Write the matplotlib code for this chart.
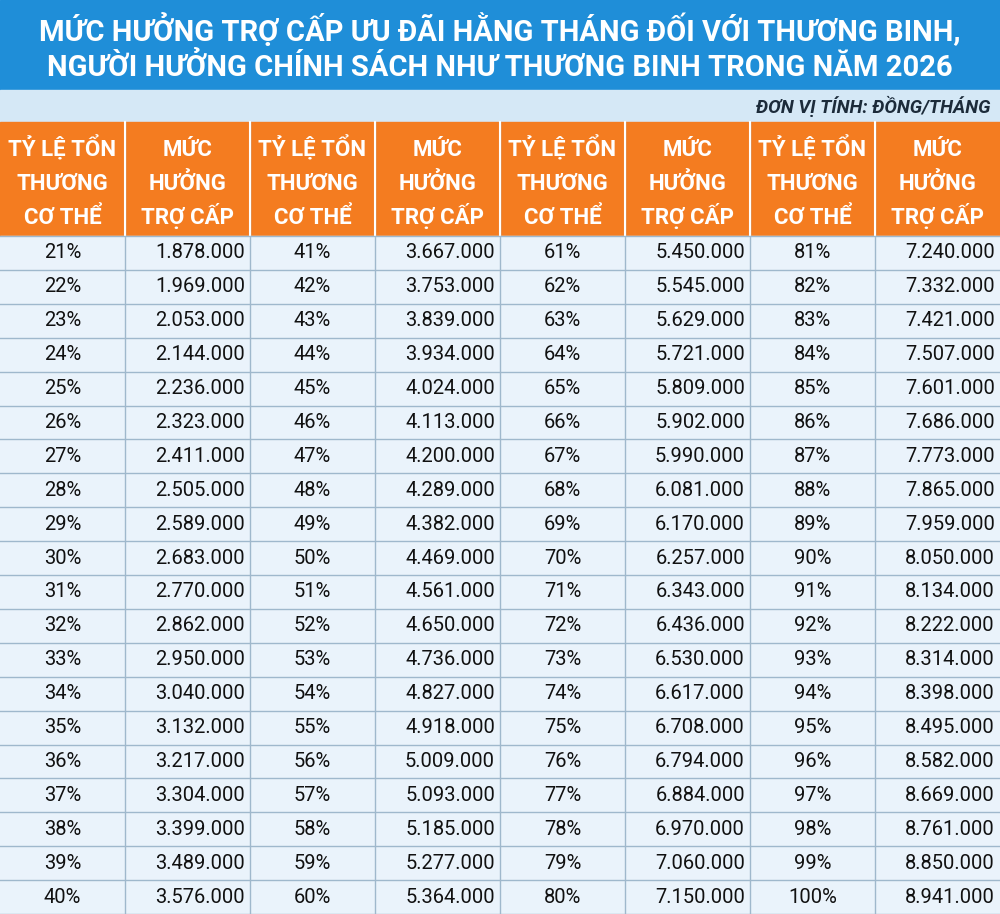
import matplotlib
matplotlib.use("Agg")
import matplotlib.pyplot as plt
from matplotlib.patches import Rectangle

title_lines = ["MỨC HƯỞNG TRỢ CẤP ƯU ĐÃI HẰNG THÁNG ĐỐI VỚI THƯƠNG BINH,",
               "NGƯỜI HƯỞNG CHÍNH SÁCH NHƯ THƯƠNG BINH TRONG NĂM 2026"]
unit = "ĐƠN VỊ TÍNH: ĐỒNG/THÁNG"
headers = [["TỶ LỆ TỔN", "THƯƠNG", "CƠ THỂ"], ["MỨC", "HƯỞNG", "TRỢ CẤP"]] * 4
rates = [f"{i}%" for i in range(21, 101)]
amounts = ["1.878.000","1.969.000","2.053.000","2.144.000","2.236.000","2.323.000","2.411.000","2.505.000","2.589.000","2.683.000",
           "2.770.000","2.862.000","2.950.000","3.040.000","3.132.000","3.217.000","3.304.000","3.399.000","3.489.000","3.576.000",
           "3.667.000","3.753.000","3.839.000","3.934.000","4.024.000","4.113.000","4.200.000","4.289.000","4.382.000","4.469.000",
           "4.561.000","4.650.000","4.736.000","4.827.000","4.918.000","5.009.000","5.093.000","5.185.000","5.277.000","5.364.000",
           "5.450.000","5.545.000","5.629.000","5.721.000","5.809.000","5.902.000","5.990.000","6.081.000","6.170.000","6.257.000",
           "6.343.000","6.436.000","6.530.000","6.617.000","6.708.000","6.794.000","6.884.000","6.970.000","7.060.000","7.150.000",
           "7.240.000","7.332.000","7.421.000","7.507.000","7.601.000","7.686.000","7.773.000","7.865.000","7.959.000","8.050.000",
           "8.134.000","8.222.000","8.314.000","8.398.000","8.495.000","8.582.000","8.669.000","8.761.000","8.850.000","8.941.000"]

W, H = 1000, 914
fig = plt.figure(figsize=(10, 9.14), dpi=100)
ax = fig.add_axes([0, 0, 1, 1])
ax.set_xlim(0, W); ax.set_ylim(H, 0); ax.axis("off")
fam = ["Roboto", "DejaVu Sans"]

ax.add_patch(Rectangle((0, 0), W, 90, color="#1f8ed8"))
ax.text(W/2, 30, title_lines[0], ha="center", va="center", color="white", fontsize=21, fontweight="bold", family=fam)
ax.text(W/2, 68, title_lines[1], ha="center", va="center", color="white", fontsize=21, fontweight="bold", family=fam)
ax.add_patch(Rectangle((0, 90), W, 32, color="#d5e8f6"))
ax.text(990, 106, unit, ha="right", va="center", color="#1c2b3a", fontsize=13.5, fontstyle="italic", fontweight="bold", family=fam)

colx = [0, 125, 250, 375, 500, 625, 750, 875, 1000]
hy0, hy1 = 122, 236
ax.add_patch(Rectangle((0, hy0), W, hy1 - hy0, color="#f47c20"))
for c in range(8):
    for k, line in enumerate(headers[c]):
        ax.text((colx[c] + colx[c+1]) / 2, 156 + 34 * k, line, ha="center", va="baseline",
                color="white", fontsize=16, fontweight="bold", family=fam)
ax.add_patch(Rectangle((0, hy1), W, H - hy1, color="#eaf3fb"))
rh = (H - hy1) / 20
for r in range(20):
    y = hy1 + rh * (r + 0.5)
    for g in range(4):
        idx = g * 20 + r
        ax.text((colx[2*g] + colx[2*g+1]) / 2, y, rates[idx], ha="center", va="center", fontsize=14.5, color="#111", family=fam)
        ax.text(colx[2*g+2] - 5, y, amounts[idx], ha="right", va="center", fontsize=14.5, color="#111", family=fam)
    ax.plot([0, W], [hy1 + rh * (r + 1)] * 2, color="#9fb8cc", lw=1)
for x in colx[1:-1]:
    ax.plot([x, x], [hy0, H], color="#9fb8cc", lw=1)
    ax.plot([x, x], [hy0, hy1], color="white", lw=1.5)
ax.plot([0, W], [hy1, hy1], color="#9fb8cc", lw=1)
fig.savefig("out.png", dpi=100)
